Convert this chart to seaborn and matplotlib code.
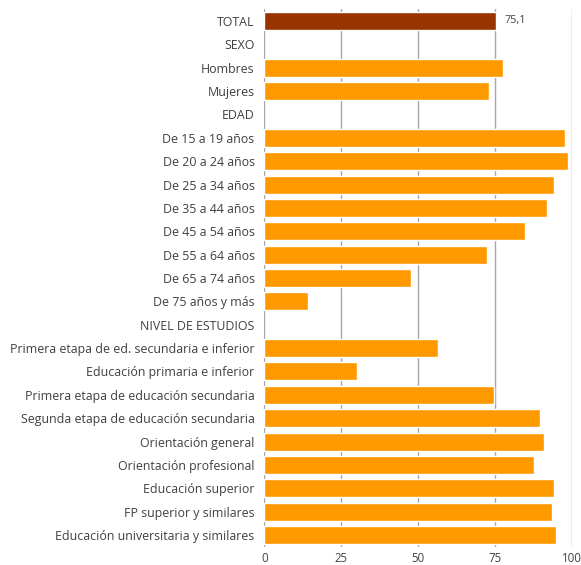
import numpy as np
import pandas as pd
import matplotlib
matplotlib.use("Agg")
import matplotlib.pyplot as plt
import seaborn as sns

categories = [
    "TOTAL", "SEXO", "Hombres", "Mujeres", "EDAD",
    "De 15 a 19 años", "De 20 a 24 años", "De 25 a 34 años", "De 35 a 44 años",
    "De 45 a 54 años", "De 55 a 64 años", "De 65 a 74 años", "De 75 años y más",
    "NIVEL DE ESTUDIOS",
    "Primera etapa de ed. secundaria e inferior",
    "Educación primaria e inferior",
    "Primera etapa de educación secundaria",
    "Segunda etapa de educación secundaria",
    "Orientación general",
    "Orientación profesional",
    "Educación superior",
    "FP superior y similares",
    "Educación universitaria y similares",
]
values = [
    75.1, np.nan, 77.4, 73.1, np.nan,
    97.6, 98.5, 94.0, 91.9, 84.6, 72.2, 47.6, 14.1,
    np.nan,
    56.5, 30.2, 74.5, 89.4, 90.7, 87.7, 94.1, 93.3, 94.6,
]
groups = ["total"] + ["other"] * (len(categories) - 1)
x_ticks = [0, 25, 50, 75, 100]
total_label = "75,1"

df = pd.DataFrame({"cat": categories, "val": values, "grp": groups})

sns.set_style("white")
plt.rcParams["font.family"] = ["Open Sans", "DejaVu Sans"]

fig = plt.figure(figsize=(5.81, 5.65), dpi=100)
ax = fig.add_axes([264.3 / 581, 18.3 / 565, 308 / 581, 537.4 / 565])

sns.barplot(data=df, y="cat", x="val", hue="grp", orient="h",
            palette={"total": "#993300", "other": "#FF9900"},
            order=categories, width=0.77, dodge=False, legend=False,
            saturation=1, ax=ax, zorder=3)

ax.set_xlim(0, 100)
ax.set_ylim(len(categories) - 0.5, -0.5)
ax.set_xticks(x_ticks)
ax.set_xticklabels([str(t) for t in x_ticks])
for t in x_ticks:
    ax.axvline(t, color="#a6a6a6", lw=1.0, zorder=1)
for s in ax.spines.values():
    s.set_visible(False)
ax.set_xlabel("")
ax.set_ylabel("")
ax.tick_params(axis="y", length=0, pad=7, labelsize=8.9, labelcolor="#404040")
ax.tick_params(axis="x", length=0, pad=4, labelsize=8.3, labelcolor="#404040")

ax.text(values[0] + 3, 0, total_label, va="center", ha="left",
        fontsize=7.8, color="#404040")

fig.savefig("out.png", dpi=100)
